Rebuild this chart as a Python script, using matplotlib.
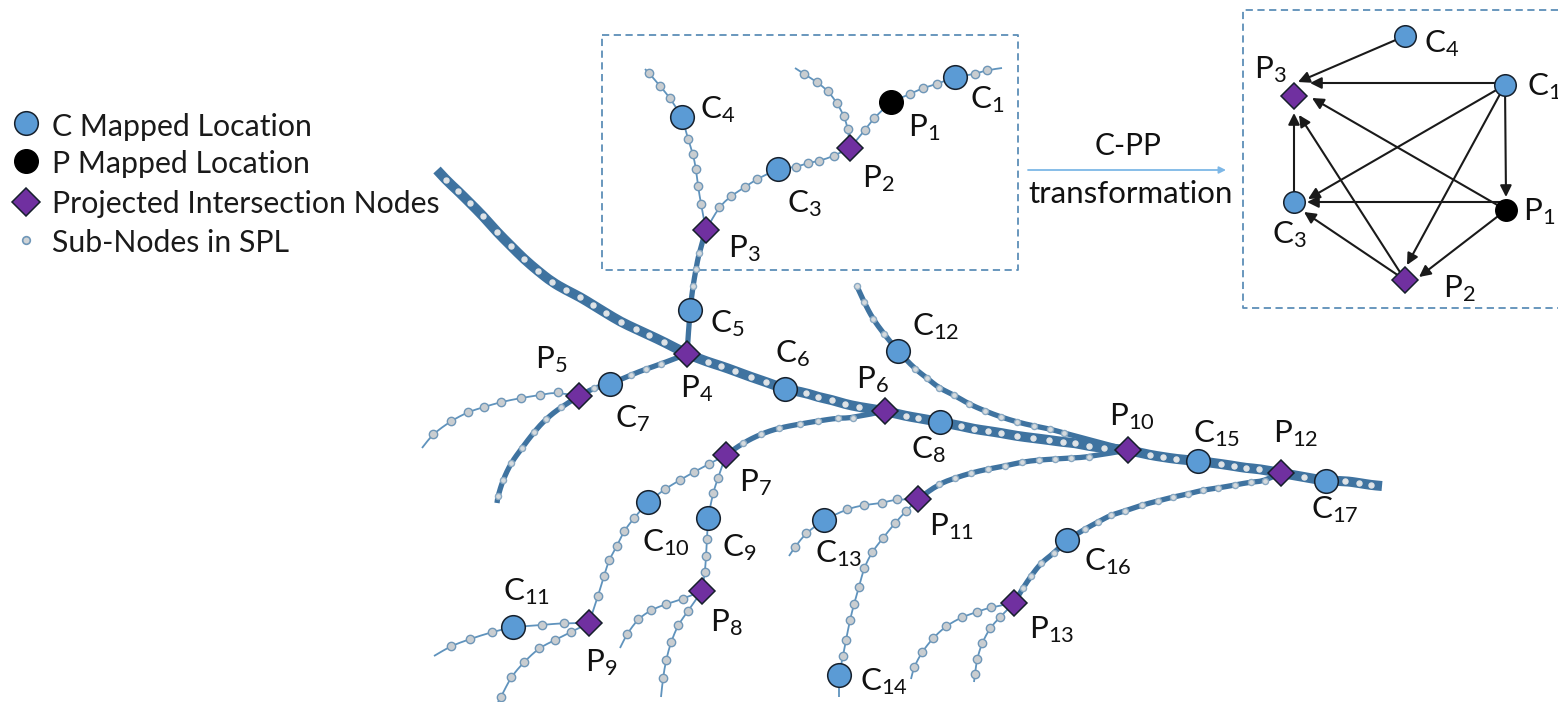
#!/usr/bin/env python3
import matplotlib
matplotlib.use("Agg")
import matplotlib.pyplot as plt
from matplotlib.path import Path
from matplotlib.patches import PathPatch

plt.rcParams["font.family"] = ["Lato", "DejaVu Sans"]
plt.rcParams["mathtext.default"] = "regular"

# node positions
c_nodes = {
    "C1": (955, 77), "C3": (778, 169), "C4": (682, 117), "C5": (690, 310),
    "C6": (785, 389), "C7": (610, 384), "C8": (940, 422), "C9": (708, 518),
    "C10": (648, 502), "C11": (513, 627), "C12": (898, 351), "C13": (824, 520),
    "C14": (839, 675), "C15": (1198, 461), "C16": (1067, 540), "C17": (1326, 481),
}
p_black = {"P1": (891, 102)}
p_nodes = {
    "P2": (850, 148), "P3": (706, 230), "P4": (687, 354), "P5": (579, 396),
    "P6": (885, 411), "P7": (726, 455), "P8": (702, 591), "P9": (589, 623),
    "P10": (1128, 450), "P11": (918, 499), "P12": (1281, 473), "P13": (1014, 603),
}
nodes = {**c_nodes, **p_black, **p_nodes}

# label -> left x, baseline y
labels = {
    "C1": (970, 108), "P1": (908, 136), "P2": (862, 187), "C3": (787, 212),
    "C4": (700, 118), "P3": (728, 257), "C5": (710, 332), "C6": (775, 362),
    "P5": (535, 368), "P4": (680, 397), "C7": (615, 427), "P6": (856, 388),
    "P7": (739, 491), "C12": (912, 335), "C8": (911, 458), "P10": (1109, 425),
    "C15": (1193, 442), "P12": (1273, 442), "C17": (1311, 518), "P11": (929, 535),
    "C16": (1084, 570), "P13": (1029, 638), "C14": (860, 690), "C13": (815, 562),
    "C10": (642, 551), "C9": (722, 556), "C11": (503, 600), "P8": (710, 631),
    "P9": (585, 671),
}

# roads: (x, y) tuple = sub-node, [x, y] list = line end only, str = named node
main_road = [
    [437, 170], (446, 180), (458, 191), (470, 203), (483, 216), (497, 232), (511, 246),
    (524, 259), (538, 271), (552, 282), (566, 290), (580, 297), (593, 305), (606, 313),
    (621, 322), (636, 329), (649, 335), (664, 342), "P4", (708, 362), (721, 366),
    (735, 371), (751, 377), (766, 382), "C6", (806, 393), (818, 397), (832, 400),
    (845, 404), (859, 407), "P6", (906, 416), (918, 418), "C8", (961, 426), (974, 429),
    (988, 431), (1001, 433), (1017, 436), (1033, 438), (1049, 440), (1063, 442),
    (1075, 443), (1089, 446), (1104, 448), "P10", (1150, 455), (1163, 457), (1176, 459),
    "C15", (1221, 464), (1234, 466), (1246, 468), (1259, 469), "P12", (1304, 477),
    "C17", (1345, 481), (1359, 483), (1371, 485), [1382, 486],
]
road_c1 = [[1002, 68], (987, 70), (975, 74), "C1", (937, 84), (923, 88), (910, 94), "P1",
           (874, 118), (865, 130), "P2"]
road_top = [[795, 68], (804, 74), (817, 82), (828, 91), (837, 103), (844, 116), (848, 129), "P2"]
road_c3 = ["P2", (834, 156), (819, 161), (808, 163), (796, 167), "C3", (757, 179), (745, 187),
           (731, 196), (719, 207), "P3"]
road_c4 = [[645, 69], (649, 73), (660, 86), (670, 98), "C4", (688, 139), (693, 154), (696, 169),
           (698, 186), (701, 204), "P3"]
road_c5 = ["P3", (699, 253), (696, 269), (693, 286), "C5", "P4"]
road_c7 = ["P4", (661, 364), (646, 369), (631, 375), "C7", (594, 388), "P5"]
road_p5_left = ["P5", (558, 392), (540, 395), (521, 398), (501, 402), (484, 407), (468, 412),
                (451, 421), (433, 434), [422, 448]]
road_p5_down = ["P5", (561, 407), (546, 419), (534, 432), (522, 448), (511, 463), (503, 480),
                (498, 496), [497, 503]]
road_p6_p7 = ["P6", (853, 418), (838, 418), (818, 421), (800, 424), (779, 428), (761, 434),
              (743, 443), "P7"]
road_c10 = ["P7", (709, 464), (694, 472), (680, 480), (665, 489), "C10", (634, 518), (624, 531),
            (617, 546), (609, 560), (604, 576), (598, 596), "P9"]
road_c9 = ["P7", (718, 478), (713, 493), "C9", (707, 539), (706, 556), (705, 572), "P8"]
road_p8_left = ["P8", (683, 599), (666, 604), (651, 610), (638, 619), (627, 634), [620, 648]]
road_p8_down = ["P8", (688, 611), (678, 625), (671, 642), (666, 660), (663, 678), [661, 697]]
road_c11 = ["P9", (564, 623), (542, 625), "C11", (492, 632), (470, 639), (451, 646), [434, 656]]
road_p9_down = ["P9", (571, 632), (555, 640), (539, 648), (524, 662), (511, 677), (501, 697), [498, 702]]
road_c13 = ["P11", (897, 499), (882, 503), (864, 505), (847, 509), "C13", (806, 533), (795, 547), [789, 556]]
road_c14 = ["P11", (906, 511), (895, 523), (883, 538), (872, 552), (864, 568), (859, 587),
            (854, 604), (850, 620), (846, 640), (843, 656), "C14", [839, 697]]
road_p10_p11 = ["P10", (1089, 457), (1071, 458), (1055, 459), (1039, 460), (1022, 462), (1005, 466),
                (988, 469), (971, 473), (955, 478), (939, 484), "P11"]
road_c16 = ["P12", (1265, 481), (1251, 482), (1235, 485), (1218, 488), (1203, 490), (1188, 494),
            (1173, 497), (1158, 501), (1142, 505), (1125, 511), (1111, 515), (1098, 522),
            (1085, 529), "C16", (1054, 553), (1041, 563), (1031, 576), (1023, 588), "P13"]
road_p13_left = ["P13", (991, 607), (977, 612), (962, 617), (946, 626), (933, 638), (922, 652),
                 (914, 667), [911, 679]]
road_p13_down = ["P13", (1000, 617), (990, 628), (982, 643), (977, 659), (975, 674), [974, 682]]
road_c12 = [[856, 285], (857, 286), (864, 302), (873, 319), (884, 334), "C12", (915, 369), (927, 378),
            (939, 388), (954, 395), (969, 404), (985, 411), (1001, 417), (1017, 422), (1034, 426),
            (1050, 429), (1064, 433), "P10"]

thin_roads = [road_c1, road_top, road_c3, road_c4, road_p5_left, road_c10, road_c9, road_p8_left,
              road_p8_down, road_c11, road_p9_down, road_c13, road_c14, road_p13_left, road_p13_down]
mid_roads = [road_c5, road_c7, road_p5_down, road_p6_p7, road_p10_p11, road_c16, road_c12]

# graph on the right, after the transformation
graph_nodes = {"C4": (1405, 36), "C1": (1505, 85), "P3": (1294, 96), "C3": (1294, 202),
               "P1": (1506, 210), "P2": (1405, 280)}
graph_labels = {"C4": (1424, 52), "C1": (1527, 95), "P3": (1254, 78), "P1": (1523, 220),
                "C3": (1272, 243), "P2": (1443, 297)}
# arrow tail -> arrow tip
graph_edges = [
    ((1405, 36), (1298, 82)), ((1505, 83), (1310, 83)), ((1505, 85), (1308, 199)),
    ((1505, 85), (1506, 197)), ((1505, 85), (1407, 265)), ((1506, 210), (1312, 98)),
    ((1506, 202), (1307, 202)), ((1506, 210), (1419, 277)), ((1294, 202), (1294, 113)),
    ((1405, 280), (1299, 115)), ((1405, 280), (1304, 212)),
]

legend_text = ["C Mapped Location", "P Mapped Location", "Projected Intersection Nodes", "Sub-Nodes in SPL"]
legend_y = [123, 161, 202, 240]
legend_base = [136, 173, 213, 252]

ROAD = "#3f73a0"
THIN = "#5f93bd"
BLUE = "#5b9bd5"
PURPLE = "#7030a0"
EDGE = "#16202c"


def sub(name):
    return f"{name[0]}$_{{{name[1:]}}}$"


def smooth_path(pts):
    # quadratic pieces through the midpoints, takes the jitter out of read-off points
    verts = [pts[0]]
    codes = [Path.MOVETO]
    for a, b in zip(pts[1:-1], pts[2:]):
        verts += [a, ((a[0] + b[0]) / 2, (a[1] + b[1]) / 2)]
        codes += [Path.CURVE3, Path.CURVE3]
    verts.append(pts[-1])
    codes.append(Path.LINETO)
    return Path(verts, codes)


def draw_road(road, width, color, dot_size, dot_face, dot_edge):
    pts = [nodes[p] if isinstance(p, str) else tuple(p) for p in road]
    ax.add_patch(PathPatch(smooth_path(pts), fc="none", ec=color, lw=width,
                           capstyle="butt", joinstyle="round", zorder=2))
    dots = [p for p in road if isinstance(p, tuple)]
    ax.plot([p[0] for p in dots], [p[1] for p in dots], "o", ms=dot_size, mfc=dot_face,
            mec=dot_edge, mew=1.0, zorder=3)


def draw_c(x, y, ms=17):
    ax.plot(x, y, "o", ms=ms, mfc=BLUE, mec=EDGE, mew=1.1, zorder=5)


def draw_black(x, y, ms=17):
    ax.plot(x, y, "o", ms=ms, mfc="black", mec="black", mew=1.0, zorder=5)


def draw_p(x, y, ms=13.5):
    ax.plot(x, y, "D", ms=ms, mfc=PURPLE, mec=EDGE, mew=1.1, zorder=5)


fig = plt.figure(figsize=(15.58, 7.02), dpi=100)
ax = fig.add_axes([0, 0, 1, 1])
ax.set_xlim(0, 1558)
ax.set_ylim(702, 0)
ax.axis("off")

for road in thin_roads:
    draw_road(road, 1.3, THIN, 6, "#c9cdd0", "#6f97b8")
for road in mid_roads:
    draw_road(road, 3.8, ROAD, 4.4, "#d5dadd", "#8aa9c2")
draw_road(main_road, 7.2, ROAD, 3.6, "#dfe3e6", "#dfe3e6")

for x, y in c_nodes.values():
    draw_c(x, y)
for x, y in p_black.values():
    draw_black(x, y)
for x, y in p_nodes.values():
    draw_p(x, y)
for name, (x, y) in labels.items():
    ax.text(x, y, sub(name), fontsize=22.5, color="#111111", ha="left", va="baseline", zorder=6)

# dashed boxes
box_color = "#5d8fb8"
ax.plot([602, 1018, 1018, 602, 602], [35, 35, 270, 270, 35], color=box_color, lw=1.3, ls=(0, (4, 2.5)))
ax.plot([1558, 1243, 1243, 1558], [10, 10, 308, 308], color=box_color, lw=1.3, ls=(0, (4, 2.5)))

# transformation arrow
ax.annotate("", xy=(1226, 170), xytext=(1028, 170),
            arrowprops=dict(arrowstyle="-|>", color="#7db7e6", lw=1.3, mutation_scale=10, shrinkA=0, shrinkB=0))
ax.text(1128, 155, "C-PP", fontsize=21.5, ha="center", va="baseline", color="#111111")
ax.text(1131, 203, "transformation", fontsize=22.5, ha="center", va="baseline", color="#111111")

# right hand graph
for tail, tip in graph_edges:
    ax.annotate("", xy=tip, xytext=tail,
                arrowprops=dict(arrowstyle="-|>", color="#1a1a1a", lw=1.5, mutation_scale=17,
                                shrinkA=0, shrinkB=0), zorder=3)
for name, (x, y) in graph_nodes.items():
    if name == "P1":
        draw_black(x, y, 15.5)
    elif name in p_nodes:
        draw_p(x, y, 13)
    else:
        draw_c(x, y, 15.5)
for name, (x, y) in graph_labels.items():
    ax.text(x, y, sub(name), fontsize=22.5, color="#111111", ha="left", va="baseline", zorder=6)

# legend
draw_c(26, legend_y[0], 17)
draw_black(26, legend_y[1], 17)
draw_p(26, legend_y[2], 14)
ax.plot(26, legend_y[3], "o", ms=5.5, mfc="#cfd3d6", mec="#6f97b8", mew=1.2)
for txt, base in zip(legend_text, legend_base):
    ax.text(52, base, txt, fontsize=21.8, color="#1a1a1a", ha="left", va="baseline")

fig.savefig("out.png", dpi=100)
